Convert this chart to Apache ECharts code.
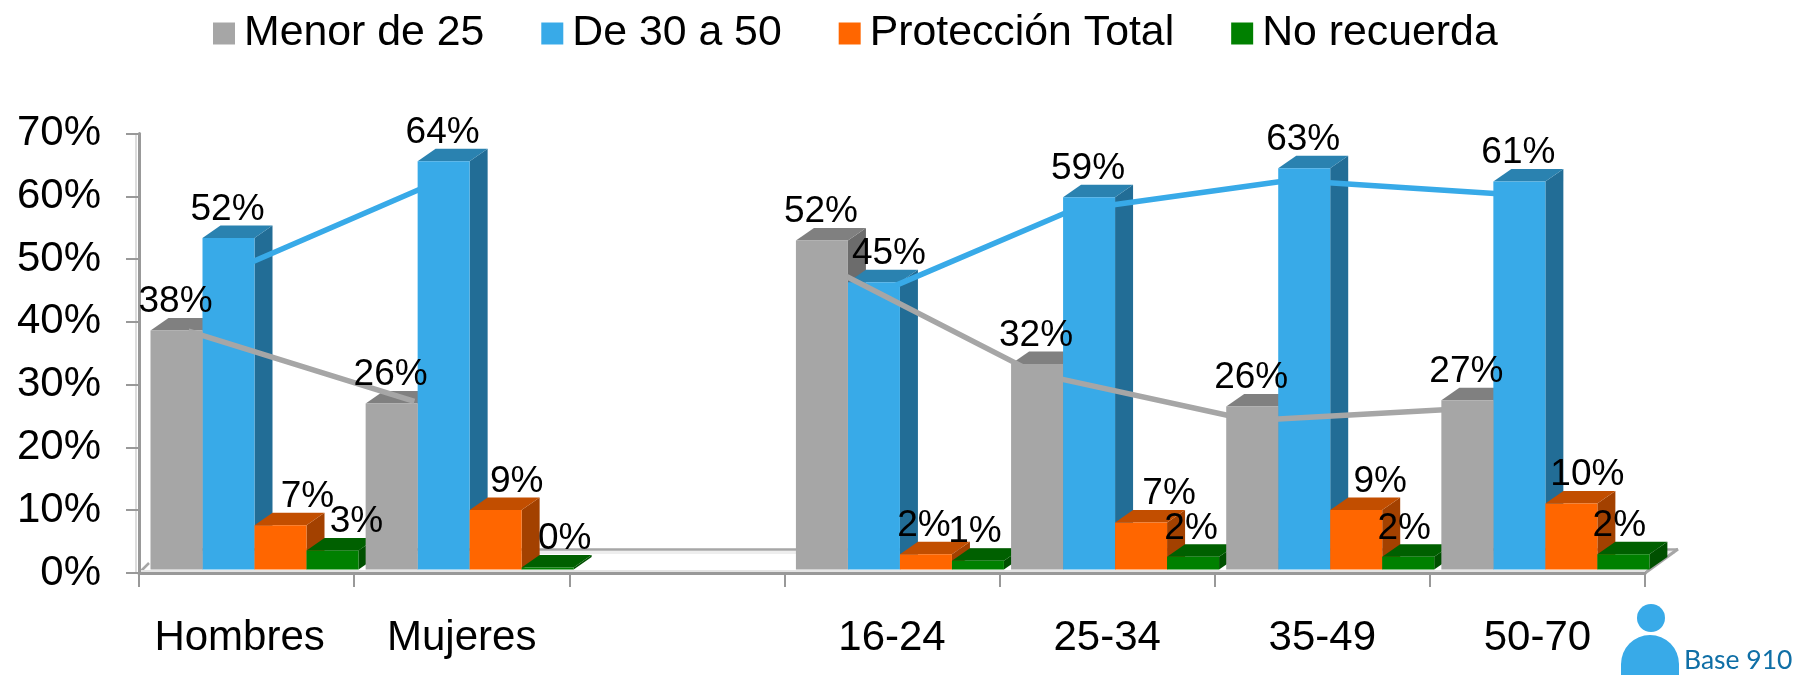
<!DOCTYPE html>
<html>
<head>
<meta charset="utf-8">
<title>Chart</title>
<script src="https://cdn.jsdelivr.net/npm/echarts@6/dist/echarts.min.js"></script>
<style>
  html, body { margin: 0; padding: 0; background: #fff; }
  #chart { width: 1805px; height: 675px; }
</style>
</head>
<body>
<div id="chart"></div>
<script>
var categories = ['Hombres', 'Mujeres', '', '16-24', '25-34', '35-49', '50-70']
var seriesNames = ['Menor de 25', 'De 30 a 50', 'Protección Total', 'No recuerda']
var yTicks = [0, 10, 20, 30, 40, 50, 60, 70]

// bar heights, the labels show them rounded
var menor25 = [37.7, 26.2, null, 51.9, 32.4, 25.7, 26.7]
var de30a50 = [52.3, 64.4, null, 45.3, 58.7, 63.3, 61.2]
var proteccion = [7, 9.4, null, 2.4, 7.4, 9.4, 10.4]
var noRecuerda = [3, 0.3, null, 1.4, 2, 2, 2.4]

// trend lines: [position along the category axis, value]
var trendGris = [[0.23, 37.6], [1.28, 26.5], [2, null], [3.18, 48.1], [4.17, 30.9], [5.17, 23.5], [6.17, 25.4]]
var trendAzul = [[0.41, 46.8], [1.41, 61.5], [2, null], [3.42, 43.4], [4.33, 56.6], [5.35, 61.4], [6.39, 59.1]]

// data label nudges, px to the right of the bar centre
var labelShift = [
  [0, 0, 0, 0, 0, 0, 0],
  [0, 0, 0, 16, 0, 0, 0],
  [28, 22, 0, -1, 29, 25, 17],
  [25, 18, 0, -2, -1, -3, -3]
]

var barWidth = 52
var barInset = 11.5
var depthX = 18
var depthY = 12.5

var colors = [
  { front: '#a6a6a6', top: '#808080', side: '#6c6c6c' },
  { front: '#38aae8', top: '#2a82b0', side: '#226d96' },
  { front: '#ff6600', top: '#c24e00', side: '#a34100' },
  { front: '#008000', top: '#006000', side: '#005000' }
]

function barGeom(api, k) {
  var value = api.value(1)
  if (isNaN(value)) return null
  var base = api.coord([api.value(0), 0])
  var top = api.coord([api.value(0), value])
  var band = api.size([1, 0])[0]
  return { x: base[0] - band / 2 + barInset + k * barWidth, yTop: top[1], yBase: base[1] }
}

function frontFace(g, k) {
  return {
    type: 'rect',
    shape: { x: g.x, y: g.yTop, width: barWidth, height: g.yBase - g.yTop },
    style: { fill: colors[k].front }
  }
}

function topFace(g, k) {
  return {
    type: 'polygon',
    shape: { points: [[g.x, g.yTop], [g.x + barWidth, g.yTop], [g.x + barWidth + depthX, g.yTop - depthY], [g.x + depthX, g.yTop - depthY]] },
    style: { fill: colors[k].top }
  }
}

function sideFace(g, k) {
  return {
    type: 'polygon',
    shape: { points: [[g.x + barWidth, g.yTop], [g.x + barWidth + depthX, g.yTop - depthY], [g.x + barWidth + depthX, g.yBase - depthY], [g.x + barWidth, g.yBase]] },
    style: { fill: colors[k].side }
  }
}

function barSeries(name, values, k, z, parts) {
  return {
    name: name,
    type: 'custom',
    xAxisIndex: 0,
    yAxisIndex: 1,
    z: z,
    silent: true,
    itemStyle: { color: colors[k].front },
    data: values.map(function(v, i) { return [i, v === null ? '-' : v] }),
    renderItem: function(params, api) {
      var g = barGeom(api, k)
      if (!g) return null
      return { type: 'group', children: parts.map(function(fn) { return fn(g, k) }) }
    }
  }
}

function lineSeries(name, points, color, z) {
  return {
    name: name,
    type: 'line',
    xAxisIndex: 1,
    yAxisIndex: 1,
    z: z,
    silent: true,
    symbol: 'none',
    connectNulls: false,
    lineStyle: { color: color, width: 5.5 },
    data: points.map(function(p) { return [p[0], p[1] === null ? '-' : p[1]] })
  }
}

var allValues = [menor25, de30a50, proteccion, noRecuerda]
var labelRows = []
allValues.forEach(function(values, k) {
  values.forEach(function(v, i) {
    if (v !== null) labelRows.push([i, v, k])
  })
})

var chart = echarts.init(document.getElementById('chart'))

chart.setOption({
  animation: false,
  backgroundColor: '#fff',
  textStyle: { fontFamily: '"Liberation Sans", Arial, sans-serif', color: '#000' },
  legend: {
    data: seriesNames,
    left: 208,
    top: 7,
    icon: 'rect',
    itemWidth: 22,
    itemHeight: 22,
    itemGap: 57,
    selectedMode: false,
    textStyle: { fontSize: 42.8, color: '#000', padding: [0, 0, 0, 4] }
  },
  grid: { left: 139, right: 160, top: 133.5, bottom: 102 },
  xAxis: [{
    type: 'category',
    data: categories.map(function(c, i) {
      // Hombres sits a little left of its band in the original
      return i === 0 ? { value: c, textStyle: { padding: [0, 14, 0, 0] }} : c
    }),
    boundaryGap: true,
    axisLine: { lineStyle: { color: '#999', width: 3 }},
    axisTick: { show: true, length: 14, lineStyle: { color: '#999', width: 2 }},
    axisLabel: { interval: 0, fontSize: 42, color: '#000', margin: 44 }
  }, {
    type: 'value',
    min: 0,
    max: 7,
    show: false
  }],
  yAxis: [{
    type: 'value',
    min: yTicks[0],
    max: yTicks[yTicks.length - 1],
    interval: 10,
    axisLine: { show: true, lineStyle: { color: '#999', width: 3 }},
    axisTick: { show: true, length: 13, lineStyle: { color: '#999', width: 2 }},
    axisLabel: { fontSize: 42, color: '#000', margin: 38, padding: [6, 0, 0, 0], formatter: '{value}%' },
    splitLine: { show: false }
  }, {
    // the bars stand on the front plane of the 3D box, which has its own scale
    type: 'value',
    min: -0.55,
    max: 68.77,
    show: false
  }],
  graphic: [
    { type: 'rect', z: 0, shape: { x: 157, y: 551, width: 1518, height: 3 }, style: { fill: '#eeeeee' }},
    { type: 'line', z: 0, shape: { x1: 157, y1: 549.5, x2: 1678, y2: 549.5 }, style: { stroke: '#a6a6a6', lineWidth: 2.5 }},
    { type: 'line', z: 0, shape: { x1: 1645, y1: 573, x2: 1678, y2: 549 }, style: { stroke: '#a6a6a6', lineWidth: 3 }},
    { type: 'line', z: 0, shape: { x1: 139, y1: 573, x2: 149, y2: 563 }, style: { stroke: '#a6a6a6', lineWidth: 2.5 }},
    { type: 'rect', z: 0, shape: { x: 139, y: 570, width: 1506, height: 2 }, style: { fill: '#e4e4e4' }},
    { type: 'rect', z: 0, shape: { x: 135, y: 133, width: 2, height: 440 }, style: { fill: '#dddddd' }},
    // person icon next to the base size
    { type: 'circle', z: 30, shape: { cx: 1651, cy: 618, r: 14 }, style: { fill: '#38aae8' }},
    { type: 'rect', z: 30, shape: { x: 1621, y: 635, width: 58, height: 40, r: [29, 29, 0, 0] }, style: { fill: '#38aae8' }},
    { type: 'text', z: 30, left: 1684, top: 647, style: { text: 'Base 910', fill: '#0f6fa6', font: '26.5px Lato, "Open Sans", sans-serif' }}
  ],
  series: [
    barSeries('Menor de 25 fondo', menor25, 0, 2, [sideFace, topFace]),
    barSeries('De 30 a 50 fondo', de30a50, 1, 3, [sideFace, topFace]),
    lineSeries('Tendencia De 30 a 50', trendAzul, colors[1].front, 4),
    barSeries(seriesNames[1], de30a50, 1, 5, [frontFace]),
    lineSeries('Tendencia Menor de 25', trendGris, colors[0].front, 6),
    barSeries(seriesNames[2], proteccion, 2, 7, [sideFace, topFace, frontFace]),
    barSeries(seriesNames[3], noRecuerda, 3, 8, [sideFace, topFace, frontFace]),
    barSeries(seriesNames[0], menor25, 0, 9, [frontFace]),
    {
      name: 'etiquetas',
      type: 'custom',
      xAxisIndex: 0,
      yAxisIndex: 1,
      z: 10,
      silent: true,
      data: labelRows,
      renderItem: function(params, api) {
        var i = api.value(0)
        var k = api.value(2)
        var v = api.value(1)
        var pos = api.coord([i, v])
        var band = api.size([1, 0])[0]
        var x = pos[0] - band / 2 + barInset + (k + 0.5) * barWidth + labelShift[k][i] - 1
        return {
          type: 'text',
          x: x,
          y: pos[1] - 28.5,
          style: {
            text: Math.round(v) + '%',
            fill: '#000',
            font: '37px "Liberation Sans", Arial, sans-serif',
            align: 'center',
            verticalAlign: 'middle'
          }
        }
      }
    }
  ]
})
</script>
</body>
</html>
